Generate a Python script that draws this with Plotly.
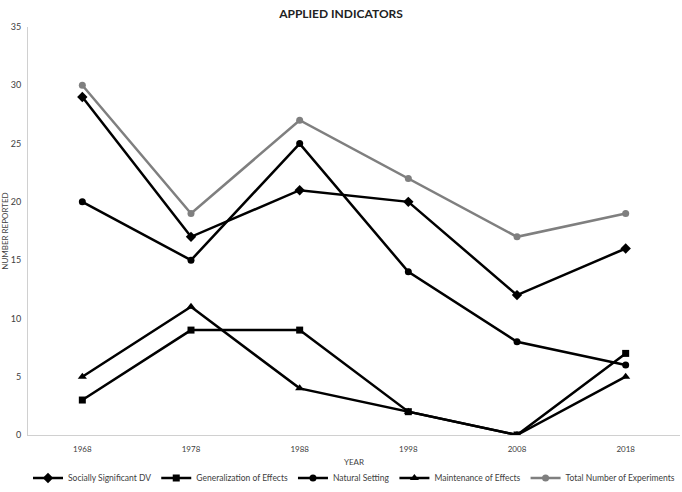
import plotly.graph_objects as go

years = ["1968", "1978", "1988", "1998", "2008", "2018"]
socially_significant = [29, 17, 21, 20, 12, 16]
generalization = [3, 9, 9, 2, 0, 7]
natural_setting = [20, 15, 25, 14, 8, 6]
maintenance = [5, 11, 4, 2, 0, 5]
total_experiments = [30, 19, 27, 22, 17, 19]

series = [
    ("Socially Significant DV", socially_significant, "diamond", "#000000", 8),
    ("Generalization of Effects", generalization, "square", "#000000", 7),
    ("Natural Setting", natural_setting, "circle", "#000000", 7),
    ("Maintenance of Effects", maintenance, "triangle-up", "#000000", 8),
    ("Total Number of Experiments", total_experiments, "circle", "#7f7f7f", 7),
]

fig = go.Figure()
for name, vals, sym, col, sz in series:
    fig.add_trace(go.Scatter(
        x=years, y=vals, name=name, mode="lines+markers",
        line=dict(color=col, width=2.5),
        marker=dict(symbol=sym, size=sz, color=col),
    ))

fig.update_layout(
    width=682, height=492,
    paper_bgcolor="white", plot_bgcolor="white",
    font=dict(family="Lato, Open Sans, sans-serif", color="#404040", size=9),
    title=dict(text="<b>APPLIED INDICATORS</b>", x=0.5, xanchor="center",
               y=0.972, yanchor="middle",
               font=dict(size=12, color="#222222")),
    margin=dict(l=28, r=2, t=27, b=57, autoexpand=False),
    showlegend=True,
    legend=dict(orientation="h", x=0.5, xanchor="center", y=-0.07, yanchor="top",
                font=dict(size=8.5, color="#404040"), itemwidth=30,
                tracegroupgap=0),
)
fig.update_xaxes(
    type="category", range=[-0.5, 5.5],
    showline=True, linecolor="#d0d0d0", linewidth=1,
    showgrid=False, ticks="", tickfont=dict(size=8, color="#404040"),
    ticklabelstandoff=6,
    title=dict(text="YEAR", font=dict(size=8, color="#404040"), standoff=6),
    automargin=False,
)
fig.update_yaxes(
    range=[0, 35], dtick=5,
    showline=True, linecolor="#d0d0d0", linewidth=1,
    showgrid=False, zeroline=False, ticks="",
    tickfont=dict(size=9, color="#404040"),
    ticklabelstandoff=4,
    title=dict(text="NUMBER REPORTED", font=dict(size=8, color="#404040"), standoff=2),
    automargin=False,
)

fig.write_html("out.html", config={"displayModeBar": False},
               post_script="document.body.style.margin='0px';")
